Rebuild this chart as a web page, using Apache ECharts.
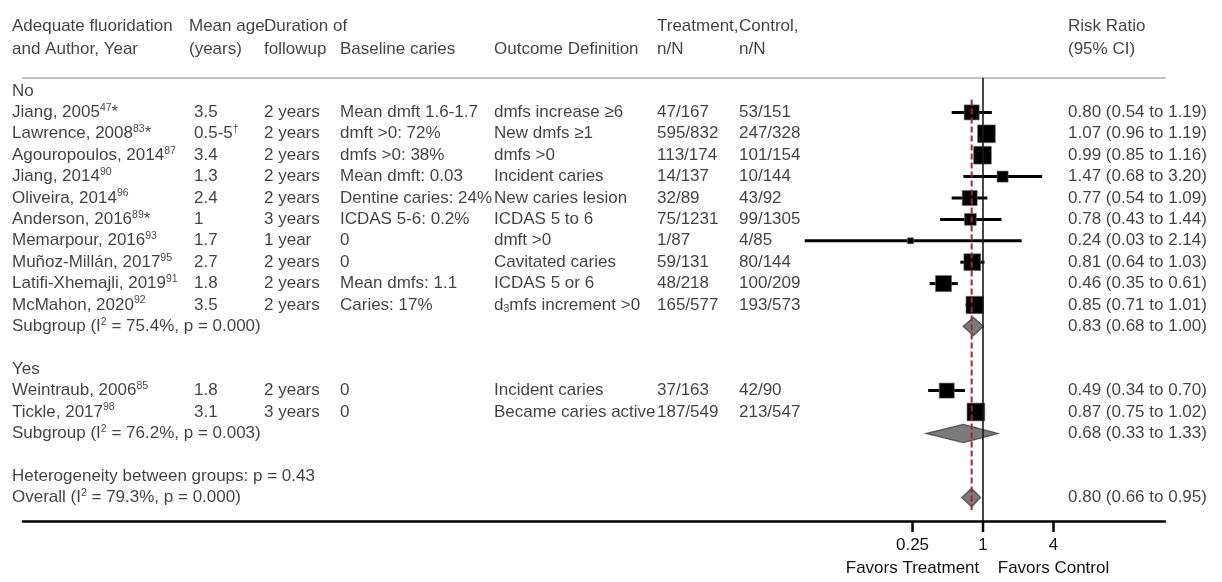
<!DOCTYPE html>
<html><head><meta charset="utf-8">
<script src="https://cdn.jsdelivr.net/npm/echarts@6/dist/echarts.min.js"></script>
<style>html,body{margin:0;padding:0;background:#fff}#c{width:1222px;height:582px}</style>
</head><body><div id="c"></div>
<script>
// ---------------- DATA ----------------
const groupNames = ['No', 'Yes'];
const studyGroup = [0, 0, 0, 0, 0, 0, 0, 0, 0, 0, 1, 1];
const authors = ['Jiang, 2005', 'Lawrence, 2008', 'Agouropoulos, 2014', 'Jiang, 2014', 'Oliveira, 2014', 'Anderson, 2016', 'Memarpour, 2016', 'Muñoz-Millán, 2017', 'Latifi-Xhemajli, 2019', 'McMahon, 2020', 'Weintraub, 2006', 'Tickle, 2017'];
const refs = ['47', '83', '87', '90', '96', '89', '93', '95', '91', '92', '85', '98'];
const refMarks = ['*', '*', '', '', '', '*', '', '', '', '', '', ''];
const meanAge = ['3.5', '0.5-5†', '3.4', '1.3', '2.4', '1', '1.7', '2.7', '1.8', '3.5', '1.8', '3.1'];
const duration = ['2 years', '2 years', '2 years', '2 years', '2 years', '3 years', '1 year', '2 years', '2 years', '2 years', '2 years', '3 years'];
const baseline = ['Mean dmft 1.6-1.7', 'dmft >0: 72%', 'dmfs >0: 38%', 'Mean dmft: 0.03', 'Dentine caries: 24%', 'ICDAS 5-6: 0.2%', '0', '0', 'Mean dmfs: 1.1', 'Caries: 17%', '0', '0'];
const outcome = ['dmfs increase ≥6', 'New dmfs ≥1', 'dmfs >0', 'Incident caries', 'New caries lesion', 'ICDAS 5 to 6', 'dmft >0', 'Cavitated caries', 'ICDAS 5 or 6', 'd₃mfs increment >0', 'Incident caries', 'Became caries active'];
const treatment = ['47/167', '595/832', '113/174', '14/137', '32/89', '75/1231', '1/87', '59/131', '48/218', '165/577', '37/163', '187/549'];
const control = ['53/151', '247/328', '101/154', '10/144', '43/92', '99/1305', '4/85', '80/144', '100/209', '193/573', '42/90', '213/547'];
const rr = [0.80, 1.07, 0.99, 1.47, 0.77, 0.78, 0.24, 0.81, 0.46, 0.85, 0.49, 0.87];
const rrLow = [0.54, 0.96, 0.85, 0.68, 0.54, 0.43, 0.03, 0.64, 0.35, 0.71, 0.34, 0.75];
const rrHigh = [1.19, 1.19, 1.16, 3.20, 1.09, 1.44, 2.14, 1.03, 0.61, 1.01, 0.70, 1.02];
const weights = [7.6, 10.6, 10.6, 4.1, 7.6, 4.7, 1.2, 9.5, 8.7, 10.2, 7.6, 10.6];
const subgroupI2 = ['75.4%', '76.2%'];
const subgroupP = ['0.000', '0.003'];
const subgroupRR = [0.83, 0.68];
const subgroupLow = [0.68, 0.33];
const subgroupHigh = [1.00, 1.33];
const heterogeneityP = '0.43';
const overallI2 = '79.3%';
const overallP = '0.000';
const overallRR = 0.80;
const overallLow = 0.66;
const overallHigh = 0.95;
const headerLine1 = ['Adequate fluoridation', 'Mean age', 'Duration of', '', '', 'Treatment,', 'Control,', 'Risk Ratio'];
const headerLine2 = ['and Author, Year', '(years)', 'followup', 'Baseline caries', 'Outcome Definition', 'n/N', 'n/N', '(95% CI)'];
const axisTicks = [0.25, 1, 4];
const favorLabels = ['Favors Treatment', 'Favors Control'];
const nullValue = 1;

// ---------------- LAYOUT / STYLE ----------------
const W = 1222, H = 582;
const FONT = '"Liberation Sans", Arial, Helvetica, sans-serif';
const FS = 17;
const TXT = '#111';
const ROW0 = 91, ROWH = 21.4;          // pixel y of row 0 and row pitch
const G_TOP = 78, G_BOTTOM = 61, G_LEFT = 23, G_RIGHT = 57;
const X_ONE = 983, PX_PER_LOG2 = 35.25;   // where RR=1 sits, px per doubling
const COLS = [12, 194, 264, 340, 494, 657, 739, 1068];
const HEAD_COLS = [12, 189, 264, 340, 494, 657, 739, 1068];
const SQ = 5.45;   // square side per sqrt(weight)
const DIA_H = 9;
const TICK_LEN = 11, TICK_LABEL_DY = 24, FAVOR_DY = 47;

const logMin = (G_LEFT - X_ONE) / PX_PER_LOG2;
const logMax = ((W - G_RIGHT) - X_ONE) / PX_PER_LOG2;
const rowAt = px => (px - ROW0) / ROWH;

const fmt2 = v => v.toFixed(2);
const ciText = (e, l, h) => fmt2(e) + ' (' + fmt2(l) + ' to ' + fmt2(h) + ')';
const rich = s => s.replace(/†/g, '{sup|†}').replace(/₃/g, '{sub|3}');

// ---------------- BUILD ROWS ----------------
const texts = [];
const T = (x, row, text) => texts.push({ value: [x, row], text: text });
headerLine1.forEach((t, i) => { if (t) T(HEAD_COLS[i], -3, t); });
headerLine2.forEach((t, i) => { if (t) T(HEAD_COLS[i], -1.95, t); });

const studyRows = [];
const subRows = [];
let row = 0;
groupNames.forEach((g, gi) => {
  T(COLS[0], row, g); row++;
  studyGroup.forEach((sg, i) => {
    if (sg !== gi) return;
    studyRows[i] = row;
    T(COLS[0], row, authors[i] + '{sup|' + refs[i] + '}' + refMarks[i]);
    T(COLS[1], row, rich(meanAge[i]));
    T(COLS[2], row, duration[i]);
    T(COLS[3], row, baseline[i]);
    T(COLS[4], row, rich(outcome[i]));
    T(COLS[5], row, treatment[i]);
    T(COLS[6], row, control[i]);
    T(COLS[7], row, ciText(rr[i], rrLow[i], rrHigh[i]));
    row++;
  });
  subRows[gi] = row;
  T(COLS[0], row, 'Subgroup (I{sup|2} = ' + subgroupI2[gi] + ', p = ' + subgroupP[gi] + ')');
  T(COLS[7], row, ciText(subgroupRR[gi], subgroupLow[gi], subgroupHigh[gi]));
  row += 2;
});
T(COLS[0], row, 'Heterogeneity between groups: p = ' + heterogeneityP); row++;
const overallRow = row;
T(COLS[0], row, 'Overall (I{sup|2} = ' + overallI2 + ', p = ' + overallP + ')');
T(COLS[7], row, ciText(overallRR, overallLow, overallHigh));

const ciData = rr.map((v, i) => [rrLow[i], rrHigh[i], studyRows[i]]);
const sqData = rr.map((v, i) => [v, studyRows[i], weights[i]]);
const diaData = subgroupRR.map((v, i) => [subgroupLow[i], v, subgroupHigh[i], subRows[i]])
  .concat([[overallLow, overallRR, overallHigh, overallRow]]);

const yMain = { min: rowAt(G_TOP), max: rowAt(H - G_BOTTOM) };
const yFull = { min: rowAt(0), max: rowAt(H) };

const supStyle = { fontSize: 10.5, lineHeight: 13, verticalAlign: 'top', fontFamily: FONT, color: TXT };
const subStyle = { fontSize: 10.5, lineHeight: 13, verticalAlign: 'bottom', fontFamily: FONT, color: TXT };

const chart = echarts.init(document.getElementById('c'), null, { renderer: 'canvas' });
chart.setOption({
  animation: false,
  backgroundColor: '#fff',
  grid: [
    { left: G_LEFT, right: G_RIGHT, top: G_TOP, bottom: G_BOTTOM, containLabel: false, outerBoundsMode: 'none' },
    { left: 0, right: 0, top: 0, bottom: 0, containLabel: false, outerBoundsMode: 'none' }
  ],
  xAxis: [
    {
      gridIndex: 0, type: 'log', logBase: 2, position: 'bottom',
      min: Math.pow(2, logMin), max: Math.pow(2, logMax),
      axisLine: { show: true, onZero: false, lineStyle: { color: '#000', width: 2.5 } },
      axisTick: { show: false }, axisLabel: { show: false },
      splitLine: { show: false }, minorTick: { show: false }
    },
    { gridIndex: 1, type: 'value', min: 0, max: W, show: false },
    {
      gridIndex: 0, type: 'value', position: 'top', min: 0, max: 1,
      axisLine: { show: true, onZero: false, lineStyle: { color: '#c2c2c2', width: 2 } },
      axisTick: { show: false }, axisLabel: { show: false }, splitLine: { show: false }
    }
  ],
  yAxis: [
    { gridIndex: 0, type: 'value', inverse: true, min: yMain.min, max: yMain.max, show: false },
    { gridIndex: 1, type: 'value', inverse: true, min: yFull.min, max: yFull.max, show: false }
  ],
  series: [
    {
      type: 'scatter', xAxisIndex: 1, yAxisIndex: 1, silent: true, clip: false,
      symbolSize: 0, itemStyle: { color: 'transparent' },
      data: texts,
      label: {
        show: true, position: 'right', distance: 0,
        formatter: p => p.data.text,
        fontFamily: FONT, fontSize: FS, color: TXT, lineHeight: 20,
        rich: { sup: supStyle, sub: subStyle }
      },
      emphasis: { disabled: true }, z: 5
    },
    {
      // log-axis ticks, tick labels and the "Favors" captions
      type: 'custom', xAxisIndex: 0, yAxisIndex: 0, silent: true, clip: false,
      data: axisTicks.map(v => [v, yMain.max]), encode: { x: 0, y: 1 },
      renderItem: (params, api) => {
        const i = params.dataIndex;
        const p = api.coord([api.value(0), api.value(1)]);
        const txt = (s, dy) => ({
          type: 'text',
          style: { text: s, x: p[0], y: p[1] + dy, align: 'center', verticalAlign: 'middle', fontSize: FS, fontFamily: FONT, fill: TXT }
        });
        const children = [
          { type: 'line', shape: { x1: p[0], y1: p[1], x2: p[0], y2: p[1] + TICK_LEN }, style: { stroke: '#000', lineWidth: 2.5 } },
          txt(String(axisTicks[i]), TICK_LABEL_DY)
        ];
        if (i === 0) children.push(txt(favorLabels[0], FAVOR_DY));
        if (i === axisTicks.length - 1) children.push(txt(favorLabels[1], FAVOR_DY));
        return { type: 'group', children: children };
      },
      z: 4
    },
    {
      type: 'custom', xAxisIndex: 0, yAxisIndex: 0, silent: true, clip: false,
      data: ciData, encode: { x: [0, 1], y: 2 },
      renderItem: (params, api) => {
        const a = api.coord([api.value(0), api.value(2)]);
        const b = api.coord([api.value(1), api.value(2)]);
        return { type: 'line', shape: { x1: a[0], y1: a[1], x2: b[0], y2: b[1] }, style: { stroke: '#000', lineWidth: 3 } };
      },
      z: 2
    },
    {
      type: 'scatter', xAxisIndex: 0, yAxisIndex: 0, silent: true, clip: false,
      symbol: 'rect', data: sqData,
      symbolSize: v => SQ * Math.sqrt(v[2]),
      itemStyle: { color: '#000', opacity: 1, borderColor: '#6a6a6a', borderWidth: 0.6 },
      emphasis: { disabled: true }, z: 3
    },
    {
      type: 'custom', xAxisIndex: 0, yAxisIndex: 0, silent: true, clip: false,
      data: diaData, encode: { x: [0, 1, 2], y: 3 },
      renderItem: (params, api) => {
        const l = api.coord([api.value(0), api.value(3)]);
        const c = api.coord([api.value(1), api.value(3)]);
        const h = api.coord([api.value(2), api.value(3)]);
        return {
          type: 'polygon',
          shape: { points: [[l[0], l[1]], [c[0], c[1] - DIA_H], [h[0], h[1]], [c[0], c[1] + DIA_H]] },
          style: { fill: '#7b7b7b', stroke: '#5c5c5c', lineWidth: 1.5 }
        };
      },
      z: 3
    },
    {
      type: 'line', xAxisIndex: 0, yAxisIndex: 0, silent: true, symbol: 'none',
      data: [[nullValue, yMain.min], [nullValue, yMain.max]],
      lineStyle: { color: '#1a1a1a', width: 1.6 }, z: 4
    },
    {
      type: 'line', xAxisIndex: 0, yAxisIndex: 0, silent: true, symbol: 'none',
      data: [[overallRR, studyRows[0] - 0.6], [overallRR, overallRow + 0.58]],
      lineStyle: { color: '#9a2b2e', width: 2, type: [6, 3] }, z: 6
    }
  ]
});
</script>
</body></html>
